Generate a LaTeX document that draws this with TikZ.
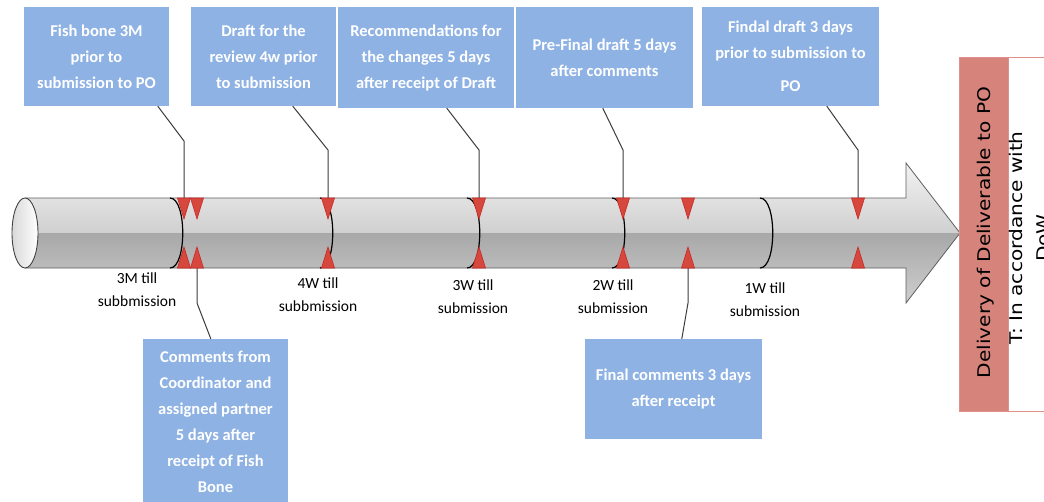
\documentclass[tikz,border=0pt]{standalone}
\usepackage{fontspec}
\setmainfont{Carlito}
\newfontfamily\dejavu{DejaVu Sans}
\usetikzlibrary{calc}
\definecolor{boxblue}{RGB}{142,178,227}
\definecolor{delred}{RGB}{214,131,124}
\definecolor{delborder}{RGB}{222,145,140}
\definecolor{trired}{RGB}{214,72,62}
\definecolor{triedge}{RGB}{200,40,34}
\definecolor{conn}{RGB}{60,60,60}
\definecolor{outl}{RGB}{95,95,95}
\definecolor{gA}{RGB}{242,242,242}
\definecolor{gB}{RGB}{208,208,208}
\definecolor{gC}{RGB}{168,168,168}
\definecolor{gD}{RGB}{206,206,206}
\begin{document}
\begin{tikzpicture}[x=1pt,y=-1pt,
  infobox/.style={fill=boxblue, text=white, font=\fontsize{16.5}{26}\selectfont\bfseries, align=center, inner sep=0pt},
  tilllabel/.style={font=\fontsize{15.5}{23}\selectfont, align=center, inner sep=0pt},
  connector/.style={draw=conn, line width=1pt},
  segarc/.style={draw=black, line width=1.2pt},
  tri/.style={fill=trired, draw=triedge, line width=0.6pt},
  rottext/.style={rotate=90, font=\dejavu\fontsize{17.5}{27}\selectfont, align=center, inner sep=0pt}]

\useasboundingbox (0,0) rectangle (1044,501);
\clip (0,0) rectangle (1044,501);
\fill[white] (0,0) rectangle (1044,501);

% cylinder arrow
\shade[top color=gA, bottom color=gB] (25,198) -- (906,198) -- (906,163) -- (960,233) -- (25,233) -- cycle;
\shade[top color=gC, bottom color=gD] (25,233) -- (960,233) -- (906,303) -- (906,268) -- (25,268) -- cycle;
\draw[outl, line width=0.8pt] (25,198) -- (906,198) -- (906,163) -- (960,233) -- (906,303) -- (906,268) -- (25,268);
\shadedraw[left color=gray!30, right color=white, draw=outl!70!black, line width=0.9pt] (25,233) ellipse [x radius=13, y radius=35];

% segment arcs
\foreach \sx in {170,320,467,612,760}
  \draw[segarc] (\sx,198) .. controls (\sx+17,198) and (\sx+17,268) .. (\sx,268);

% boxes
\node[infobox, minimum width=145pt, minimum height=99pt] (b1) at (96.5,56.5) {Fish bone 3M\\prior to\\submission to PO};
\node[infobox, minimum width=145pt, minimum height=99pt] (b2) at (263.5,56.5) {Draft for the\\review 4w prior\\to submission};
\node[infobox, minimum width=176pt, minimum height=101pt] (b3) at (426,57.5) {Recommendations for\\the changes 5 days\\after receipt of Draft};
\node[infobox, minimum width=177pt, minimum height=101pt] (b4) at (604.5,57.5) {Pre-Final draft 5 days\\after comments};
\node[infobox, minimum width=177pt, minimum height=99pt] (b5) at (790.5,56.5) {Findal draft 3 days\\prior to submission to\\[7pt]PO};
\node[infobox, minimum width=145pt, minimum height=166pt] (b6) at (215.5,422) {Comments from\\Coordinator and\\assigned partner\\5 days after\\receipt of Fish\\Bone};
\node[infobox, minimum width=177pt, minimum height=100pt] (b7) at (673.5,389) {Final comments 3 days\\after receipt};

% connector points
\coordinate (k1) at (184,141); \coordinate (t1) at (184,198);
\coordinate (k2) at (328,150); \coordinate (t2) at (328,198);
\coordinate (k3) at (479,150); \coordinate (t3) at (479,198);
\coordinate (k4) at (623,150); \coordinate (t4) at (623,198);
\coordinate (k5) at (858,150); \coordinate (t5) at (858,198);
\coordinate (k6) at (197,303); \coordinate (t6) at (197,268);
\coordinate (k7) at (688,303); \coordinate (t7) at (688,268);

\draw[connector] ([xshift=134pt]b1.south west) -- (k1) -- (t1);
\draw[connector] ([xshift=102pt]b2.south west) -- (k2) -- (t2);
\draw[connector] ([xshift=109pt]b3.south west) -- (k3) -- (t3);
\draw[connector] ([xshift=87pt]b4.south west) -- (k4) -- (t4);
\draw[connector] ([xshift=125pt]b5.south west) -- (k5) -- (t5);
\draw[connector] ([xshift=68pt]b6.north west) -- (k6) -- (t6);
\draw[connector] ([xshift=97pt]b7.north west) -- (k7) -- (t7);

% triangles
\foreach \tx in {184,197,328,479,623,688,858} {
  \draw[tri] (\tx-6.5,198) -- (\tx+6.5,198) -- (\tx,219) -- cycle;
  \draw[tri] (\tx-6.5,268) -- (\tx+6.5,268) -- (\tx,247) -- cycle;
}

% labels
\node[tilllabel] (l1) at (137,290) {3M till\\subbmission};
\node[tilllabel] (l2) at (318,294.5) {4W till\\subbmission};
\node[tilllabel] (l3) at (473,297) {3W till\\submission};
\node[tilllabel] (l4) at (613,297) {2W till\\submission};
\node[tilllabel] (l5) at (765,300) {1W till\\submission};

% delivery box
\node[fill=white, draw=delborder, line width=1pt, minimum width=52pt, minimum height=354pt, inner sep=0pt] (dow) at (1034,234) {};
\node[fill=delred, draw=delborder, line width=1pt, minimum width=49pt, minimum height=354pt, inner sep=0pt] (del) at (983.5,234) {};
\node[rottext] (deltext) at (986,232.5) {\scalebox{1.15}[1]{Delivery of Deliverable to PO}};
\node[rottext] (dowtext) at (1029,238) {\scalebox{1.15}[1]{T: In accordance with}\\\scalebox{1.15}[1]{DoW}};
\end{tikzpicture}
\end{document}
